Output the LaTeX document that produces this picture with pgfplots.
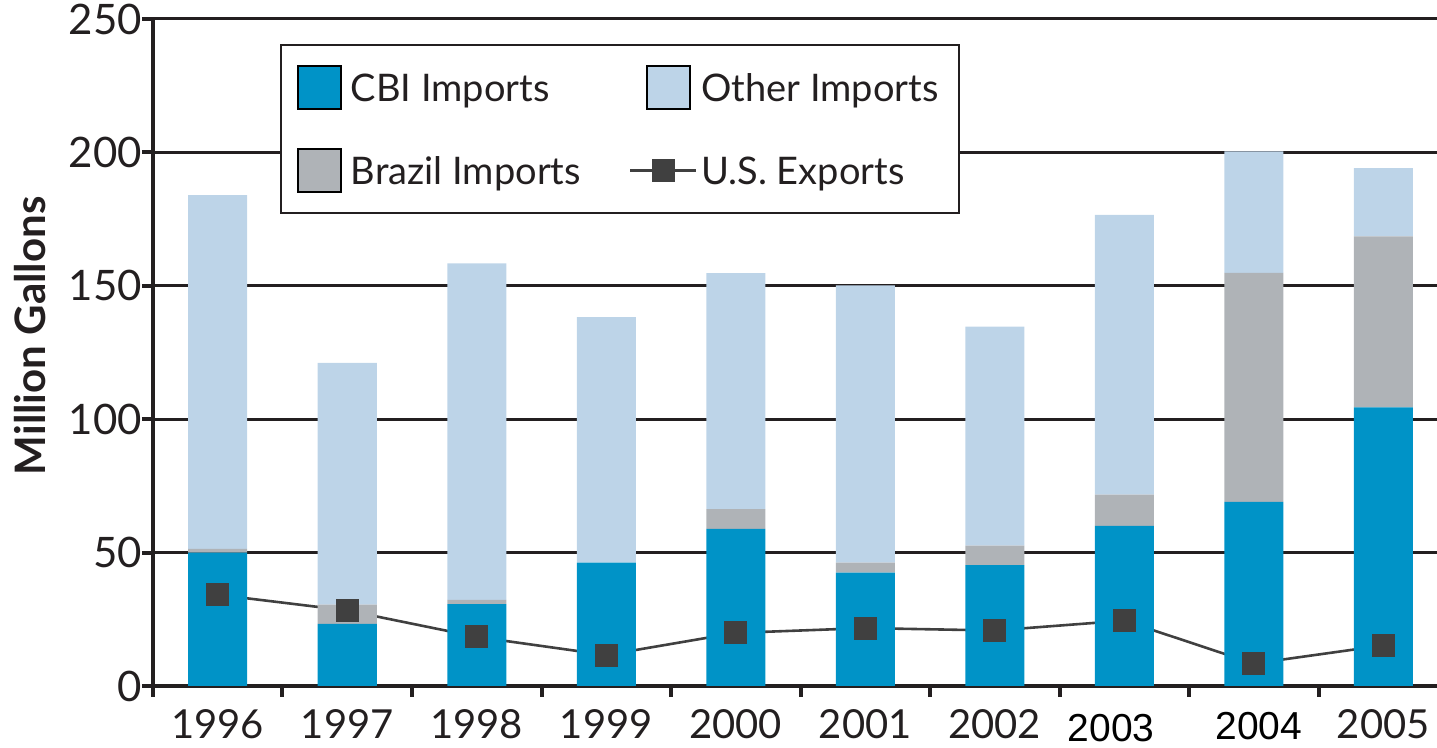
\documentclass[border=0pt]{standalone}
\usepackage{fontspec}
\setmainfont{Lato}
\newfontfamily\arialf{Liberation Sans}
\usepackage{pgfplots}
\pgfplotsset{compat=1.18}
\definecolor{cbi}{HTML}{0093C7}
\definecolor{brz}{HTML}{AFB3B7}
\definecolor{oth}{HTML}{BDD4E8}
\definecolor{expc}{HTML}{404040}
\definecolor{ink}{HTML}{231F20}
\pgfplotsset{
  sqlegend/.style={legend image code/.code={\draw[##1, draw=black, line width=1pt] (#1,-9.75pt) rectangle ++(21.5pt,21.5pt); \path (0pt,0pt) (#1+24.5pt,0pt);}},
  lnlegend/.style={legend image code/.code={\draw[##1, mark repeat=2, mark phase=2] plot coordinates {(0pt,1pt) (16.5pt,1pt) (33pt,1pt)};}},
}
\begin{document}
\begin{tikzpicture}
\begin{axis}[
  scale only axis, width=642pt, height=333.5pt,
  xmin=-0.5, xmax=9.415, ymin=0, ymax=250,
  ybar stacked, bar width=29.5pt,
  axis x line*=bottom, axis y line*=left,
  x axis line style={line width=1.75pt, color=ink},
  y axis line style={line width=2.25pt, color=ink},
  ytick={0,50,...,250},
  ymajorgrids, grid style={line width=1.5pt, color=ink},
  xtick={-0.5,0.5,...,8.5}, xticklabels={},
  extra x ticks={0,...,9},
  extra x tick labels={1996,1997,1998,1999,2000,2001,2002,{\arialf\fontsize{19.5}{22}\selectfont\color{black}\raisebox{-2pt}[14pt][0pt]{2003}\kern13pt},{\arialf\fontsize{19.5}{22}\selectfont\color{black}\kern5pt\raisebox{-1pt}[14pt][0pt]{2004}},2005},
  extra x tick style={major tick length=0pt, tick style={draw=none}},
  tick align=outside,
  major tick length=5.5pt,
  tick style={line width=2pt, color=ink},
  /pgf/number format/assume math mode=true,
  tick label style={font=\fontsize{20}{24}\selectfont, color=ink},
  yticklabel style={font=\fontsize{21}{24}\selectfont, xshift=3.5pt},
  xticklabel style={yshift=-8pt},
  ylabel={\bfseries Million Gallons},
  ylabel style={font=\fontsize{21}{24}\selectfont, color=ink, at={(axis description cs:-0.0958,0.525)}, anchor=center},
  transpose legend, legend columns=2,
  legend style={at={(axis description cs:0.0989,0.9625)}, anchor=north west, draw=ink, line width=1pt, fill=white,
    inner xsep=8pt, inner ysep=10pt, font=\fontsize{19}{24}\selectfont, text=ink,
    /tikz/row sep=19pt,
    /tikz/every odd column/.append style={column sep=0pt},
    /tikz/every even column/.append style={column sep=22pt}},
  legend cell align=left,
]
\addplot[fill=cbi, draw=none, sqlegend=0pt]
  coordinates {(0,50) (1,23.3) (2,30.7) (3,46.2) (4,58.9) (5,42.5) (6,45.3) (7,60) (8,69) (9,104.4)};
\addlegendentry{CBI Imports}
\addplot[fill=brz, draw=none, sqlegend=0pt]
  coordinates {(0,1.4) (1,7.2) (2,1.6) (3,0) (4,7.4) (5,3.7) (6,7.3) (7,11.7) (8,85.8) (9,64.1)};
\addlegendentry{Brazil Imports}
\addplot[fill=oth, draw=none, sqlegend=8.5pt]
  coordinates {(0,132.6) (1,90.6) (2,126.1) (3,92.1) (4,88.4) (5,104.0) (6,82.1) (7,104.9) (8,45.6) (9,25.6)};
\addlegendentry{Other Imports}
\addplot[sharp plot, stack plots=false, draw=expc, line width=1.3pt, mark=square*, mark size=5.5pt,
  mark options={fill=expc, draw=expc, line width=0pt}, lnlegend]
  coordinates {(0,34.2) (1,28.3) (2,18.4) (3,11.6) (4,19.9) (5,21.7) (6,20.8) (7,24.5) (8,8.4) (9,15.2)};
\addlegendentry{U.S. Exports}
\end{axis}
\pgfresetboundingbox
\path (current axis.south west) ++(-76.5pt,-31pt) rectangle ([yshift=9.5pt]current axis.north east);
\end{tikzpicture}
\end{document}
